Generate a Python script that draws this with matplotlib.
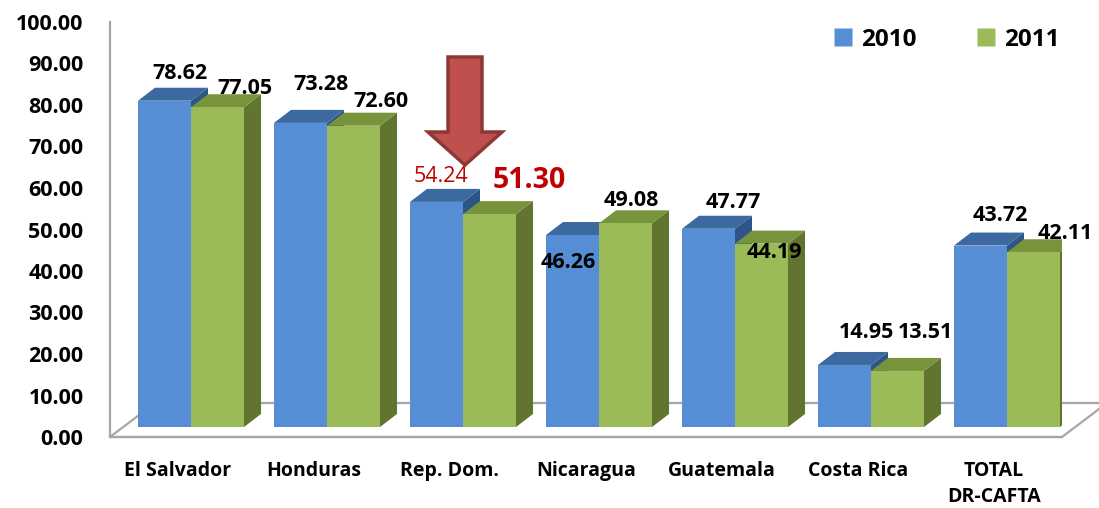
import matplotlib
matplotlib.use("Agg")
import matplotlib.pyplot as plt
from matplotlib.patches import Polygon
from matplotlib.lines import Line2D

# ---- data ----
categories = ["El Salvador", "Honduras", "Rep. Dom.", "Nicaragua", "Guatemala", "Costa Rica", "TOTAL\nDR-CAFTA"]
series_names = ["2010", "2011"]
values_2010 = [78.62, 73.28, 54.24, 46.26, 47.77, 14.95, 43.72]
values_2011 = [77.05, 72.60, 51.30, 49.08, 44.19, 13.51, 42.11]
y_ticks = [0, 10, 20, 30, 40, 50, 60, 70, 80, 90, 100]

# ---- style / layout ----
FONT = "Open Sans"
W, H, DPI = 1099, 508, 100
front_col = ["#558ED5", "#9BBB59"]
top_col = ["#3C69A0", "#77933C"]
side_col = ["#2D5587", "#61752F"]
axis_col = "#A6A6A6"

# label offsets (pixels) relative to bar front-top centre
lab_off = [
    [(15, 27), (20, 38), (4, 25), (-4, -27), (25, 26), (22, 32), (20, 30)],
    [(27, 19), (27, 24), (40, 34), (6, 23), (13, -9), (28, 38), (32, 19)],
]

fig = plt.figure(figsize=(W / DPI, H / DPI), dpi=DPI)
ax_l, ax_b, ax_w, ax_h = 110, 71, 952, 415
ax = fig.add_axes([ax_l / W, ax_b / H, ax_w / W, ax_h / H])
n = len(categories)
ax.set_xlim(-0.5, n - 0.5)
ax.set_ylim(0, 100)

# pixel -> data unit conversions
px_x = ax_w / n          # pixels per category unit
px_y = ax_h / 100.0      # pixels per value unit
def ux(p): return p / px_x
def uy(p): return p / px_y

# depth geometry (pixels)
gap_dx, gap_dy = 13, 10       # floor front -> bar front
bar_dx, bar_dy = 17, 13       # bar depth
fl_dx, fl_dy = 45, 34         # full floor depth
bw = ux(53)

# floor
x0f, x1f = -0.5, n - 0.5
floor = Polygon([(x0f, 0), (x1f, 0), (x1f + ux(fl_dx), uy(fl_dy)), (x0f + ux(fl_dx), uy(fl_dy))],
                closed=True, facecolor="white", edgecolor=axis_col, lw=1.6, clip_on=False, zorder=1)
ax.add_patch(floor)

for s in ["top", "right"]:
    ax.spines[s].set_visible(False)
for s in ["left", "bottom"]:
    ax.spines[s].set_color(axis_col)
    ax.spines[s].set_linewidth(1.6)
    ax.spines[s].set_zorder(2)

sy = uy(gap_dy)
dxx, dyy = ux(bar_dx), uy(bar_dy)
series = [values_2010, values_2011]
for i in range(n):
    for j in range(2):
        v = series[j][i]
        x0 = i + ux(gap_dx) - bw + j * bw
        top = sy + v
        z = 3 + i * 10 + j * 4
        side = Polygon([(x0 + bw, sy), (x0 + bw + dxx, sy + dyy), (x0 + bw + dxx, top + dyy), (x0 + bw, top)],
                       closed=True, facecolor=side_col[j], edgecolor="none", zorder=z)
        topp = Polygon([(x0, top), (x0 + bw, top), (x0 + bw + dxx, top + dyy), (x0 + dxx, top + dyy)],
                       closed=True, facecolor=top_col[j], edgecolor="none", zorder=z + 1)
        ax.add_patch(side)
        ax.add_patch(topp)
        ax.bar([x0], [v], width=bw, bottom=sy, align="edge", color=front_col[j],
               edgecolor="none", zorder=z + 2)

# data labels
for j in range(2):
    for i in range(n):
        v = series[j][i]
        xc = i + ux(gap_dx) - bw + j * bw + bw / 2
        kw = dict(fontsize=15.5, fontweight="bold", color="black")
        if categories[i] == "Rep. Dom.":
            if j == 0:
                kw = dict(fontsize=15.5, fontweight="normal", color="#C00000")
            else:
                kw = dict(fontsize=20.5, fontweight="bold", color="#C00000")
        ax.annotate(f"{v:.2f}", xy=(xc, sy + v), xytext=lab_off[j][i], textcoords="offset pixels",
                    ha="center", va="center", family=FONT, zorder=200, annotation_clip=False, **kw)

# red arrow pointing at Rep. Dom.
k = categories.index("Rep. Dom.")
acx = k + ux(15)
a_top, a_head, a_tip = uy(437 - 57), uy(437 - 132), uy(437 - 165)
sw, hw = ux(17), ux(37)
arrow = Polygon([(acx - sw, a_top), (acx + sw, a_top), (acx + sw, a_head), (acx + hw, a_head),
                 (acx, a_tip), (acx - hw, a_head), (acx - sw, a_head)],
                closed=True, facecolor="#C0504D", edgecolor="#8C3836", lw=2.5, zorder=300,
                joinstyle="miter")
ax.add_patch(arrow)

# axes ticks
ax.set_yticks(y_ticks)
ax.set_yticklabels([f"{t:.2f}" for t in y_ticks], family=FONT, fontsize=15.5, fontweight="bold")
ax.set_xticks(range(n))
ax.set_xticklabels(categories, family=FONT, fontsize=14, fontweight="bold", linespacing=1.45)
ax.tick_params(axis="y", length=0, pad=19)
ax.tick_params(axis="x", length=0, pad=17)

# legend
handles = [Line2D([], [], marker="s", linestyle="none", markersize=12.5, markerfacecolor=c,
                  markeredgecolor="none") for c in front_col]
leg = fig.legend(handles, series_names, loc="center left", bbox_to_anchor=(832 / W, 1 - 40 / H),
                 ncol=2, frameon=False, borderpad=0, borderaxespad=0, handlelength=0.9,
                 handletextpad=0.3, columnspacing=2.4,
                 prop={"family": FONT, "weight": "bold", "size": 17.5})

fig.savefig("out.png", dpi=DPI)
